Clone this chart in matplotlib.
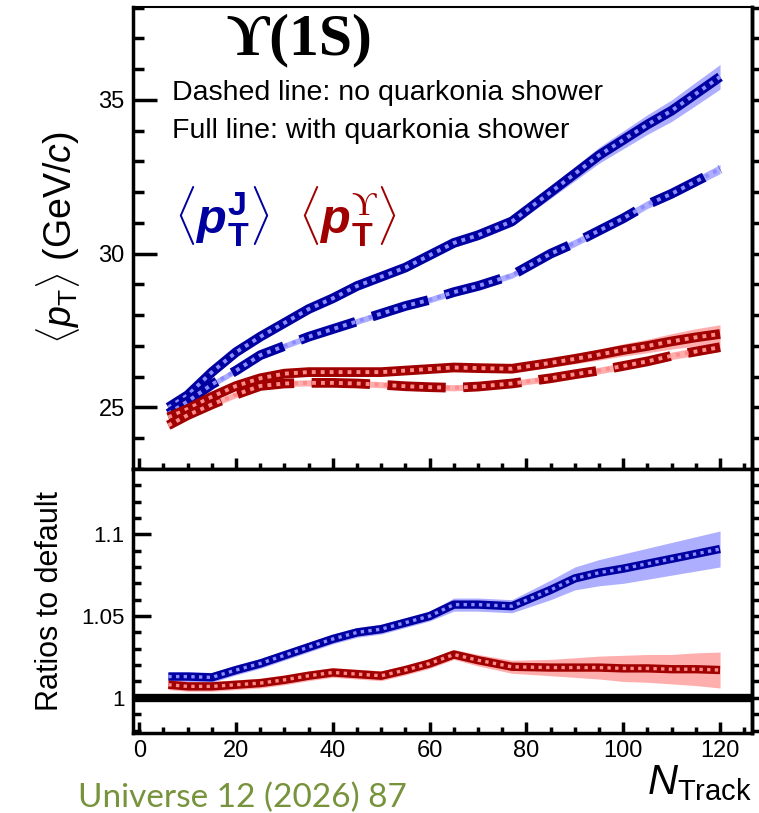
import numpy as np
import matplotlib.pyplot as plt
from matplotlib.ticker import MultipleLocator

plt.rcParams['font.family'] = ['Liberation Sans', 'DejaVu Sans']
plt.rcParams['mathtext.fontset'] = 'custom'
plt.rcParams['mathtext.rm'] = 'Liberation Serif'
plt.rcParams['mathtext.it'] = 'Liberation Sans:italic'
plt.rcParams['mathtext.bf'] = 'Liberation Sans:bold'
plt.rcParams['mathtext.bfit'] = 'Liberation Sans:bold:italic'
plt.rcParams['mathtext.sf'] = 'Liberation Sans'

# N_Track points
ntrack = [6, 10, 15, 20, 25, 30, 35, 40, 45, 50, 55, 60, 65, 70, 77, 85, 90, 95, 100, 105, 110, 115, 120]

# <pT> of jet (J) and of Upsilon(1S), with / without quarkonia shower
pt_jet_full = [25.0, 25.4, 26.15, 26.8, 27.3, 27.75, 28.2, 28.55, 28.95, 29.25, 29.55, 29.95,
               30.35, 30.6, 31.05, 32.0, 32.6, 33.2, 33.7, 34.2, 34.65, 35.2, 35.75]
pt_jet_noqs = [24.8, 25.2, 25.75, 26.2, 26.7, 27.0, 27.3, 27.55, 27.8, 28.05, 28.3, 28.5,
               28.75, 28.95, 29.3, 30.0, 30.35, 30.75, 31.15, 31.6, 31.95, 32.35, 32.75]
pt_ups_full = [24.68, 24.95, 25.35, 25.7, 25.95, 26.1, 26.15, 26.15, 26.15, 26.15, 26.2, 26.25,
               26.3, 26.28, 26.26, 26.45, 26.58, 26.72, 26.87, 27.0, 27.15, 27.28, 27.39]
pt_ups_noqs = [24.42, 24.75, 25.1, 25.42, 25.7, 25.78, 25.8, 25.8, 25.78, 25.74, 25.69, 25.66,
               25.64, 25.68, 25.78, 25.95, 26.08, 26.2, 26.35, 26.5, 26.68, 26.82, 26.96]

err_jet_full = [0.15, 0.12, 0.12, 0.12, 0.12, 0.12, 0.12, 0.12, 0.12, 0.12, 0.12, 0.13,
                0.14, 0.15, 0.16, 0.2, 0.23, 0.26, 0.29, 0.32, 0.35, 0.38, 0.4]
err_jet_noqs = [0.1, 0.1, 0.1, 0.1, 0.1, 0.1, 0.1, 0.1, 0.1, 0.1, 0.1, 0.1,
                0.1, 0.1, 0.1, 0.11, 0.12, 0.12, 0.13, 0.13, 0.14, 0.14, 0.15]
err_ups_full = [0.12, 0.1, 0.1, 0.1, 0.1, 0.1, 0.1, 0.1, 0.1, 0.1, 0.1, 0.1,
                0.1, 0.11, 0.12, 0.14, 0.16, 0.18, 0.2, 0.22, 0.25, 0.28, 0.3]
err_ups_noqs = [0.1, 0.1, 0.1, 0.1, 0.1, 0.1, 0.1, 0.1, 0.1, 0.1, 0.1, 0.1,
                0.1, 0.1, 0.1, 0.1, 0.1, 0.11, 0.11, 0.12, 0.12, 0.13, 0.13]

# ratios to default
ratio_jet = [1.013, 1.013, 1.0125, 1.017, 1.021, 1.026, 1.031, 1.036, 1.040, 1.042, 1.046, 1.050,
             1.057, 1.057, 1.056, 1.066, 1.073, 1.0765, 1.079, 1.082, 1.085, 1.088, 1.091]
ratio_ups = [1.008, 1.007, 1.007, 1.008, 1.009, 1.011, 1.0135, 1.0155, 1.0145, 1.0135, 1.017, 1.021,
             1.0265, 1.023, 1.019, 1.0185, 1.0185, 1.0185, 1.018, 1.018, 1.0175, 1.0175, 1.017]
err_ratio_jet = [0.003, 0.003, 0.003, 0.003, 0.003, 0.003, 0.003, 0.003, 0.003, 0.003, 0.003, 0.003,
                 0.004, 0.004, 0.004, 0.006, 0.007, 0.008, 0.009, 0.0095, 0.01, 0.0105, 0.011]
err_ratio_ups = [0.003, 0.003, 0.003, 0.003, 0.003, 0.003, 0.003, 0.003, 0.003, 0.003, 0.003, 0.003,
                 0.003, 0.0035, 0.004, 0.005, 0.006, 0.007, 0.008, 0.0085, 0.009, 0.01, 0.011]

blue, lblue = '#0000a0', '#8c8cff'
red, lred = '#a00000', '#ff8c8c'

W, H = 759, 813
fig = plt.figure(figsize=(W / 100, H / 100), dpi=100)


def px(x, y):
    return x / W, 1 - y / H


ax1 = fig.add_axes([133 / W, 1 - 469 / H, 619 / W, 462 / H])
ax2 = fig.add_axes([133 / W, 1 - 733 / H, 619 / W, 264 / H])


def band_line(ax, y, err, dark, light, dashed, lw):
    y = np.array(y)
    err = np.array(err)
    ax.fill_between(ntrack, y - err, y + err, color=light, alpha=0.7, lw=0)
    ls = (0, (6, 1.8)) if dashed else '-'
    ax.plot(ntrack, y, color=dark, lw=lw, ls=ls, solid_capstyle='butt', dash_capstyle='butt')
    ax.plot(ntrack, y, color=light, lw=lw * 0.4, ls=(0, (1, 1.3)))


band_line(ax1, pt_jet_full, err_jet_full, blue, lblue, False, 7)
band_line(ax1, pt_jet_noqs, err_jet_noqs, blue, lblue, True, 7)
band_line(ax1, pt_ups_full, err_ups_full, red, lred, False, 7)
band_line(ax1, pt_ups_noqs, err_ups_noqs, red, lred, True, 7)

band_line(ax2, ratio_jet, err_ratio_jet, blue, lblue, False, 6)
band_line(ax2, ratio_ups, err_ratio_ups, red, lred, False, 6)
ax2.axhline(1.0, color='black', lw=6)

ax1.set_xlim(-1.3, 126.6)
ax2.set_xlim(-1.3, 126.6)
ax1.set_ylim(23.0, 38.02)
ax2.set_ylim(0.9785, 1.1399)

for ax in (ax1, ax2):
    ax.xaxis.set_major_locator(MultipleLocator(20))
    ax.xaxis.set_minor_locator(MultipleLocator(5))
    ax.tick_params(axis='x', which='major', direction='in', length=8, width=2.5, labelsize=17, pad=5)
    ax.tick_params(axis='x', which='minor', direction='in', length=4, width=2.5)
    for s in ax.spines.values():
        s.set_linewidth(2.5)

ax1.yaxis.set_major_locator(MultipleLocator(5))
ax1.yaxis.set_minor_locator(MultipleLocator(1))
ax1.tick_params(axis='y', which='major', direction='in', length=17, width=2.5, labelsize=17, pad=6)
ax1.tick_params(axis='y', which='minor', direction='in', length=8, width=2.5)
ax1.tick_params(axis='x', labelbottom=False)
ax1.spines['top'].set_linewidth(1.5)

ax2.yaxis.set_major_locator(MultipleLocator(0.05))
ax2.yaxis.set_minor_locator(MultipleLocator(0.01))
ax2.set_yticks([1.0, 1.05, 1.1])
ax2.set_yticklabels(['1', '1.05', '1.1'])
ax2.tick_params(axis='y', which='major', direction='in', length=13, width=2.5, labelsize=16, pad=6)
ax2.tick_params(axis='y', which='minor', direction='in', length=6, width=2.5)

# ticks of the neighbouring panel on the right edge
for ax, step in ((ax1, 1), (ax2, 0.01)):
    sec = ax.secondary_yaxis('right')
    sec.yaxis.set_major_locator(MultipleLocator(step))
    sec.tick_params(direction='out', length=8, width=2.5, labelright=False)
    sec.spines['right'].set_linewidth(2.5)

ax1.set_ylabel(r'$\langle \mathit{p}_{\mathsf{T}}\rangle$ (GeV/$\mathit{c}$)', fontsize=27, labelpad=12)
ax2.set_ylabel('Ratios to default', fontsize=22, labelpad=12)

fig.text(*px(299, 40), 'ϒ(1S)', family=['Liberation Serif', 'DejaVu Serif'], fontweight='bold',
         fontsize=43, ha='center', va='center')
fig.text(*px(172, 93), 'Dashed line: no quarkonia shower', fontsize=20.5, ha='left', va='center')
fig.text(*px(172, 131), 'Full line: with quarkonia shower', fontsize=20.5, ha='left', va='center')
fig.text(*px(222, 217), r'$\langle\mathbfit{p}_{\mathbf{T}}^{\mathbf{J}}\rangle$', color=blue,
         fontsize=35, ha='center', va='center')
fig.text(*px(348, 217), r'$\langle\mathbfit{p}_{\mathbf{T}}^{\mathrm{ϒ}}\rangle$', color=red,
         fontsize=35, ha='center', va='center')

fig.text(*px(752, 783), r'$\mathit{N}_{\mathsf{Track}}$', fontsize=30, ha='right', va='center')
fig.text(*px(78, 798), 'Universe 12 (2026) 87', color='#77933C', fontsize=24,
         family=['Lato', 'DejaVu Sans'], ha='left', va='center')

fig.savefig('out.png', dpi=100)
